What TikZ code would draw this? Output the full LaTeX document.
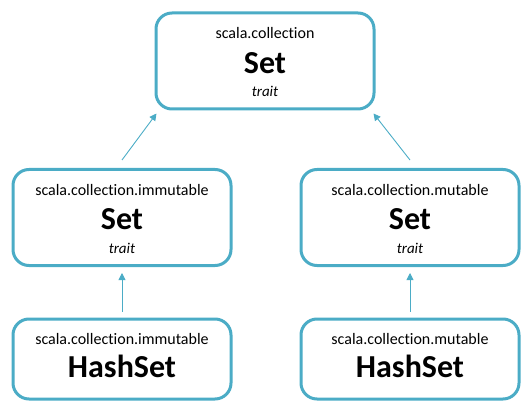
\documentclass[tikz,border=0pt]{standalone}
\usepackage{fontspec}
\setmainfont{Carlito}[Ligatures=NoCommon]
\usetikzlibrary{arrows.meta}
\definecolor{setblue}{RGB}{75,172,198}

\begin{document}
\begin{tikzpicture}[x=1pt,y=-1pt,
    box/.style={draw=setblue,line width=3pt,rounded corners=16pt,minimum width=218pt,inner sep=0pt},
    pkg/.style={anchor=base,font=\fontsize{16}{18}\selectfont},
    cls/.style={anchor=base,font=\fontsize{32}{36}\selectfont\bfseries},
    kind/.style={anchor=base,font=\fontsize{15}{17}\selectfont\itshape},
    inherit/.style={setblue,line width=0.9pt,-{Triangle[length=7pt,width=7pt]}}]
    \useasboundingbox (0,0) rectangle (532,414);

%boxes
    \node[box,minimum height=96pt] (top) at (265,61) {};
    \node[box,minimum height=96pt] (imm) at (122,217.5) {};
    \node[box,minimum height=96pt] (mut) at (410,217.5) {};
    \node[box,minimum height=80pt] (immhash) at (122,359) {};
    \node[box,minimum height=80pt] (muthash) at (410,359) {};

%texts
    \node[pkg] (toppkg) at ([yshift=-27pt]top.north) {scala.collection};
    \node[cls] (topcls) at ([yshift=-62pt]top.north) {Set};
    \node[kind] (topkind) at ([yshift=-85pt]top.north) {trait};

    \node[pkg] (immpkg) at ([yshift=-27pt]imm.north) {scala.collection.immutable};
    \node[cls] (immcls) at ([yshift=-61pt]imm.north) {Set};
    \node[kind] (immkind) at ([yshift=-85pt]imm.north) {trait};

    \node[pkg] (mutpkg) at ([yshift=-27pt]mut.north) {scala.collection.mutable};
    \node[cls] (mutcls) at ([yshift=-61pt]mut.north) {Set};
    \node[kind] (mutkind) at ([yshift=-85pt]mut.north) {trait};

    \node[pkg] (immhashpkg) at ([yshift=-27pt]immhash.north) {scala.collection.immutable};
    \node[cls] (immhashcls) at ([yshift=-60pt]immhash.north) {HashSet};

    \node[pkg] (muthashpkg) at ([yshift=-27pt]muthash.north) {scala.collection.mutable};
    \node[cls] (muthashcls) at ([yshift=-60pt]muthash.north) {HashSet};

%arrows
    \coordinate (immtail) at ([yshift=8pt]imm.north);
    \coordinate (muttail) at ([yshift=8pt]mut.north);
    \coordinate (immhashtail) at ([yshift=6pt]immhash.north);
    \coordinate (muthashtail) at ([yshift=6pt]muthash.north);
    \draw[inherit] (immtail) -- ([xshift=2pt,yshift=-3pt]top.south west);
    \draw[inherit] (muttail) -- ([xshift=-2pt,yshift=-3pt]top.south east);
    \draw[inherit] (immhashtail) -- ([yshift=-6pt]imm.south);
    \draw[inherit] (muthashtail) -- ([yshift=-6pt]mut.south);
\end{tikzpicture}
\end{document}
